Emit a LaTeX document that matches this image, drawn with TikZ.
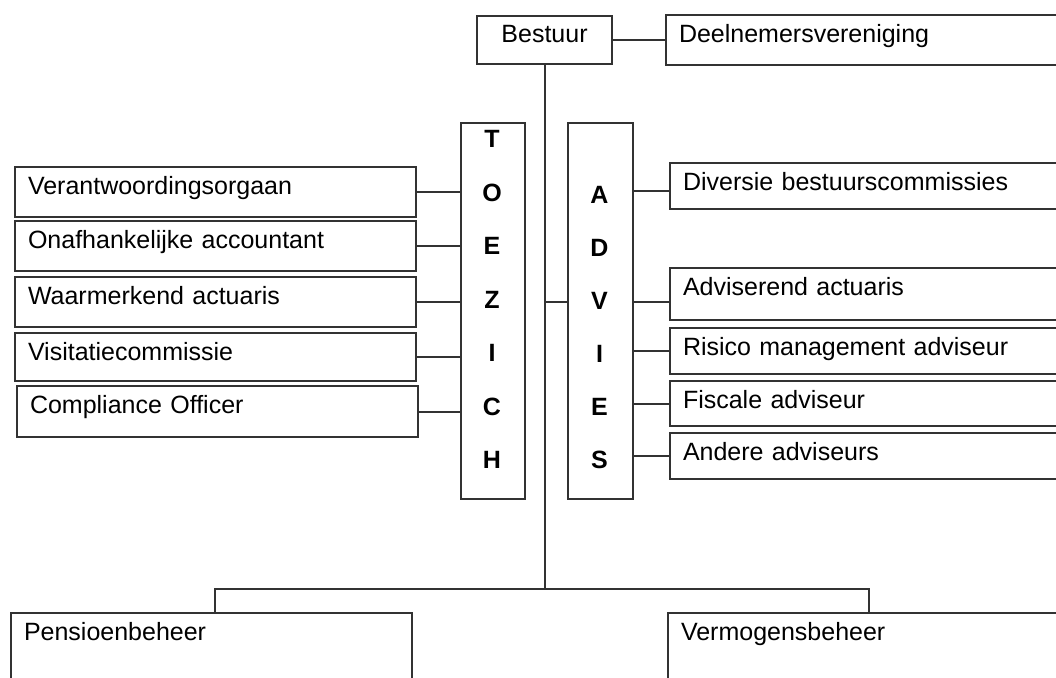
\documentclass[tikz,border=0pt]{standalone}
\usepackage{fontspec}
\setmainfont{Liberation Sans}
\definecolor{linecol}{RGB}{50,50,50}

\begin{document}
\begin{tikzpicture}[x=1pt, y=-1pt,
    box/.style={draw=linecol, line width=2pt, anchor=north west, inner xsep=13pt, inner ysep=0pt,
                text height=27pt, align=left, font=\fontsize{25}{29}\selectfont},
    lbox/.style={box, text width=375pt, text depth=23pt},
    rbox/.style={box, text width=394pt, text depth=19pt},
    pillar/.style={draw=linecol, line width=2pt, anchor=north west, minimum width=64pt,
                   minimum height=376pt, inner sep=0pt},
    letter/.style={font=\fontsize{25}{29}\selectfont\bfseries, inner sep=0pt},
    link/.style={draw=linecol, line width=2pt}]
    \clip (0,0) rectangle (1056,677);

    \node[box, text width=109pt, align=center, text depth=21pt] (bestuur) at (476,15) {Bestuur};
    \node[rbox, text depth=23pt] (dv) at (665,14) {Deelnemersvereniging};

    % toezicht
    \node[pillar] (toezicht) at (460,122) {};
    \foreach \ch [count=\i from 0] in {T,O,E,Z,I,C,H}
        \node[letter] (toe\i) at (492,139+53.5*\i) {\ch};
    \node[lbox] (vo) at (14,166) {Verantwoordingsorgaan};
    \node[lbox] (oa) at (14,220) {Onafhankelijke accountant};
    \node[lbox] (wa) at (14,276) {Waarmerkend actuaris};
    \node[lbox, text depth=21pt] (vc) at (14,332) {Visitatiecommissie};
    \node[lbox, text depth=24pt] (co) at (16,385) {Compliance Officer};

    % advies
    \node[pillar, minimum width=65pt] (advies) at (567,122) {};
    \foreach \ch [count=\i from 0] in {A,D,V,I,E,S}
        \node[letter] (adv\i) at (599.5,195+53*\i) {\ch};
    \node[rbox] (dbc) at (669,162) {Diversie bestuurscommissies};
    \node[rbox, text depth=25pt] (aa) at (669,267) {Adviserend actuaris};
    \node[rbox] (rma) at (669,327) {Risico management adviseur};
    \node[rbox, text depth=18pt] (fa) at (669,380) {Fiscale adviseur};
    \node[rbox] (aad) at (669,432) {Andere adviseurs};

    \node[lbox, text depth=80pt] (pb) at (10,612) {Pensioenbeheer};
    \node[rbox, text depth=80pt] (vb) at (667,612) {Vermogensbeheer};

    \coordinate (vy) at (0,302);
    \coordinate (forky) at (0,589);
    \coordinate (lft) at (215,589);
    \coordinate (rgt) at (869,589);

    \draw[link] (bestuur.east) -- (dv.west);
    \draw[link] (bestuur.south) -- (bestuur.south |- forky);
    \draw[link] (bestuur.south |- vy) -- (advies.west |- vy);
    \draw[link] (pb.north -| lft) -- (lft) -- (rgt) -- (vb.north -| rgt);

    \foreach \n in {vo,oa,wa,vc,co}
        \draw[link] (\n.east) -- (\n.east -| toezicht.west);
    \draw[link] ([yshift=-5pt]dbc.west) -- ([yshift=-5pt]dbc.west -| advies.east);
    \draw[link] (advies.east |- vy) -- (aa.west |- vy);
    \foreach \n in {rma,fa,aad}
        \draw[link] (\n.west) -- (\n.west -| advies.east);
\end{tikzpicture}
\end{document}
